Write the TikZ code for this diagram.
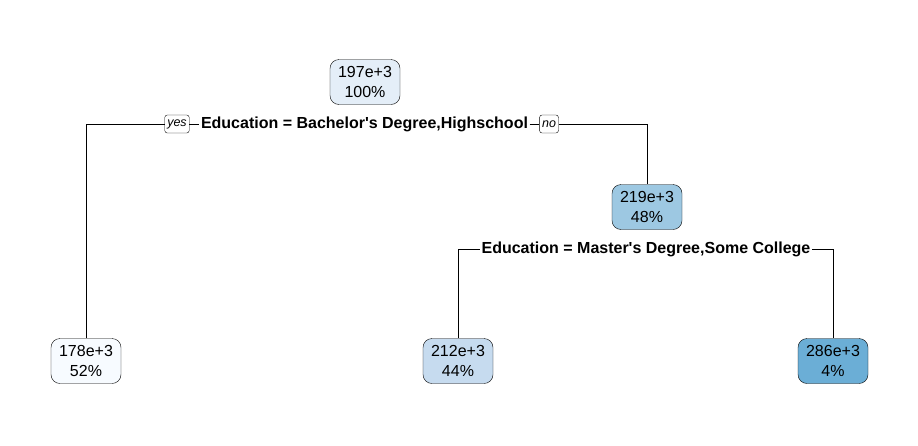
\documentclass[tikz,border=0pt]{standalone}
\usepackage{fontspec}
\setmainfont{Liberation Sans}
\usepackage{xcolor}
\usetikzlibrary{positioning}
\definecolor{blA}{HTML}{E4EEF8}
\definecolor{blB}{HTML}{9DC8E2}
\definecolor{blC}{HTML}{F7FBFF}
\definecolor{blD}{HTML}{C6DBEF}
\definecolor{blE}{HTML}{6BAED6}
\begin{document}
\begin{tikzpicture}[x=1pt, y=-1pt,
  every node/.style={font=\fontsize{16}{19.5}\selectfont},
  leaf/.style={draw, rounded corners=9pt, minimum width=70pt, minimum height=45pt,
    align=center, inner sep=1pt},
  split/.style={fill=white, inner sep=1.5pt, font=\fontsize{16}{18}\selectfont\bfseries},
  tag/.style={draw, fill=white, rounded corners=2.5pt, inner sep=2.5pt, minimum height=18pt,
    font=\fontsize{12.5}{14}\selectfont\itshape},
  edge/.style={draw=black, line width=0.8pt}]
  \useasboundingbox (0,0) rectangle (918,445);
  % tree nodes
  \node[leaf, fill=blA] (root) at (365,82)  {197e+3\\100\%};
  \node[leaf, fill=blB] (n2)   at (647,207) {219e+3\\48\%};
  \node[leaf, fill=blC] (l1)   at (86,361)  {178e+3\\52\%};
  \node[leaf, fill=blD] (l2)   at (458,361) {212e+3\\44\%};
  \node[leaf, fill=blE] (l3)   at (833,361) {286e+3\\4\%};
  % split labels
  \node[split] (s1) at (364.5,124) {Education = Bachelor\textquotesingle s Degree,Highschool};
  \node[tag] (yes) at (177,124) {yes};
  \node[tag] (no)  at (549,124) {no};
  \node[split] (s2) at (646,249) {Education = Master\textquotesingle s Degree,Some College};
  % edges
  \draw[edge] (l1.north) |- (yes.west);
  \draw[edge] (yes.east) -- (s1.west);
  \draw[edge] (s1.east) -- (no.west);
  \draw[edge] (no.east) -| (n2.north);
  \draw[edge] (l2.north) |- (s2.west);
  \draw[edge] (s2.east) -| (l3.north);
\end{tikzpicture}
\end{document}
